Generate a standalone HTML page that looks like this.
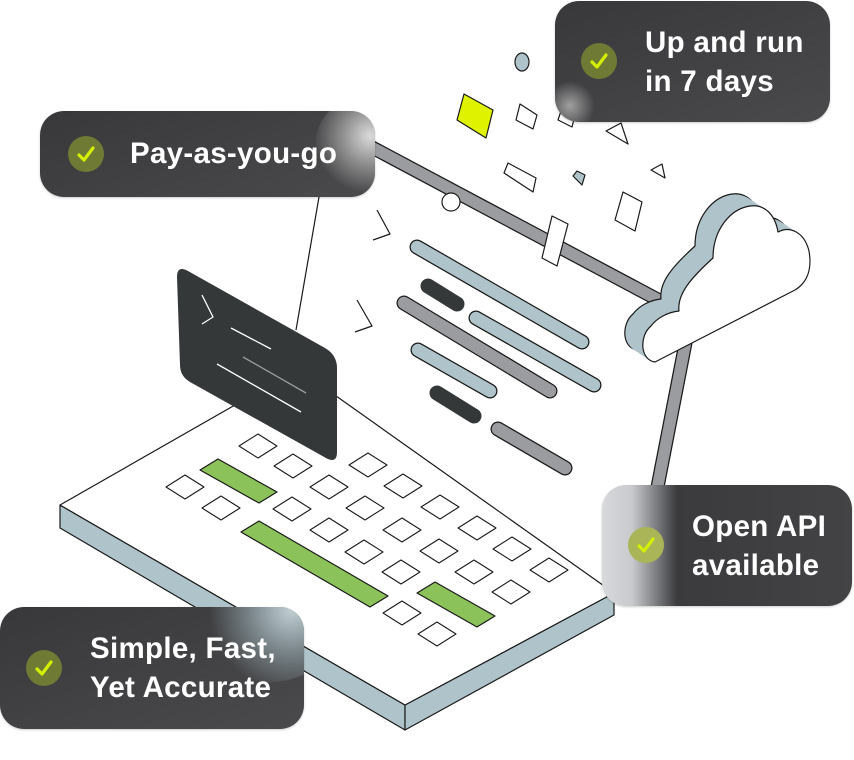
<!DOCTYPE html>
<html><head><meta charset="utf-8"><style>
html,body{margin:0;padding:0;background:#fff;}
body{width:854px;height:760px;position:relative;overflow:hidden;font-family:"Liberation Sans",sans-serif;}
.card{position:absolute;overflow:hidden;border-radius:24px;background:linear-gradient(160deg,#38383b 0%,#434345 60%,#4a4a4c 100%);box-shadow:0 1px 2px rgba(0,0,0,.2);color:#fff;font-weight:bold;font-size:29.5px;line-height:39px;letter-spacing:0.3px;}
.ck{position:absolute;width:36px;height:36px;border-radius:50%;background:#6f7a35;z-index:2}
.ck svg{position:absolute;left:0;top:0}
.t{position:absolute;white-space:nowrap;z-index:2}
.gl{position:absolute;border-radius:50%;pointer-events:none;z-index:1}
</style></head><body>
<svg width="854" height="760" style="position:absolute;left:0;top:0" stroke="#1a1a1a" stroke-width="1.2" stroke-linejoin="round">
<defs>
<path id="cl" d="M655,362 C640,360 639,336 651,326 C657,318 668,312 679,311 C677,294 691,278 713,258 C713,230 730,209 750,206 C764,204 775,214 778,232 C789,226 804,231 809,251 C812,268 808,282 795,290 L655,362 Z"/>
</defs>
<line x1="345" y1="133" x2="668" y2="305" stroke="#1a1a1a" stroke-width="14"/>
<line x1="345" y1="133" x2="668" y2="305" stroke="#9a9ca0" stroke-width="11.5"/>
<line x1="688" y1="330" x2="655" y2="500" stroke="#1a1a1a" stroke-width="14"/>
<line x1="688" y1="330" x2="655" y2="500" stroke="#9a9ca0" stroke-width="11.5"/>
<circle cx="451" cy="202" r="9" fill="#fff"/>
<polygon points="542,258 552,216 568,224 557,266" fill="#fff"/>
<ellipse cx="522" cy="62" rx="7" ry="9" fill="#afc4ca"/>
<polygon points="464,94 493,110 486,138 457,120" fill="#dff200"/>
<polygon points="520,104 537,115 533,129 516,120" fill="#fff"/>
<polygon points="562,108 575,115 572,127 558,120" fill="#fff"/>
<polygon points="606,131 621,123 628,144" fill="#fff"/>
<polygon points="651,170 662,164 665,178" fill="#fff"/>
<polygon points="504,173 508,163 536,178 533,192" fill="#fff"/>
<polygon points="573,176 577,171 585,175 582,185" fill="#afc4ca"/>
<polygon points="615,220 623,192 642,202 635,231" fill="#fff"/>
<polyline points="377,210 390,234 373,240" fill="none"/>
<polyline points="357,300 372,326 355,332" fill="none"/>
<g stroke-linecap="round">
<line x1="417" y1="247" x2="582" y2="342" stroke-width="15"/>
<line x1="417" y1="247" x2="582" y2="342" stroke="#afc4ca" stroke-width="12.5"/>
<line x1="428" y1="286" x2="457" y2="304" stroke="#353839" stroke-width="15"/>
<line x1="404" y1="303" x2="550" y2="391" stroke-width="15"/>
<line x1="404" y1="303" x2="550" y2="391" stroke="#9a9ca0" stroke-width="12.5"/>
<line x1="476" y1="318" x2="594" y2="385" stroke-width="15"/>
<line x1="476" y1="318" x2="594" y2="385" stroke="#afc4ca" stroke-width="12.5"/>
<line x1="418" y1="350" x2="490" y2="391" stroke-width="15"/>
<line x1="418" y1="350" x2="490" y2="391" stroke="#afc4ca" stroke-width="12.5"/>
<line x1="437" y1="393" x2="474" y2="416" stroke="#353839" stroke-width="15"/>
<line x1="498" y1="429" x2="565" y2="468" stroke-width="15"/>
<line x1="498" y1="429" x2="565" y2="468" stroke="#9a9ca0" stroke-width="12.5"/>
</g>
<use href="#cl" transform="translate(-18,-12)" fill="#afc4ca" stroke="#1a1a1a"/>
<use href="#cl" transform="translate(-16,-10.5)" fill="#afc4ca" stroke="none"/>
<use href="#cl" transform="translate(-14,-9)" fill="#afc4ca" stroke="none"/>
<use href="#cl" transform="translate(-12,-8)" fill="#afc4ca" stroke="none"/>
<use href="#cl" transform="translate(-10,-6.5)" fill="#afc4ca" stroke="none"/>
<use href="#cl" transform="translate(-8,-5)" fill="#afc4ca" stroke="none"/>
<use href="#cl" transform="translate(-6,-4)" fill="#afc4ca" stroke="none"/>
<use href="#cl" transform="translate(-4,-2.5)" fill="#afc4ca" stroke="none"/>
<use href="#cl" transform="translate(-2,-1)" fill="#afc4ca" stroke="none"/>
<use href="#cl" fill="#fff" stroke="#1a1a1a"/>
<polygon points="60,505 405,705 405,730 60,528" fill="#afc4ca"/>
<polygon points="405,705 614,593 614,615 405,730" fill="#afc4ca"/>
<polygon points="60,505 298,369 614,593 405,705" fill="#fff"/>
<g fill="#fff" stroke-width="1.1">
<polygon points="239,446 258,434 277,446 258,458"/>
<polygon points="274,466 293,454 312,466 293,478"/>
<polygon points="349,465 368,453 387,465 368,477"/>
<polygon points="166,487 185,475 204,487 185,499"/>
<polygon points="310,487 329,475 348,487 329,499"/>
<polygon points="384,486 403,474 422,486 403,498"/>
<polygon points="202,508 221,496 240,508 221,520"/>
<polygon points="273,509 292,497 311,509 292,521"/>
<polygon points="346,508 365,496 384,508 365,520"/>
<polygon points="421,507 440,495 459,507 440,519"/>
<polygon points="310,530 329,518 348,530 329,542"/>
<polygon points="383,530 402,518 421,530 402,542"/>
<polygon points="458,528 477,516 496,528 477,540"/>
<polygon points="345,552 364,540 383,552 364,564"/>
<polygon points="420,551 439,539 458,551 439,563"/>
<polygon points="493,549 512,537 531,549 512,561"/>
<polygon points="382,572 401,560 420,572 401,584"/>
<polygon points="455,572 474,560 493,572 474,584"/>
<polygon points="530,570 549,558 568,570 549,582"/>
<polygon points="492,592 511,580 530,592 511,604"/>
<polygon points="383,613 402,601 421,613 402,625"/>
<polygon points="418,634 437,622 456,634 437,646"/>
</g>
<g fill="#8bc25a">
<polygon points="200,470 218,459 277,492 259,503"/>
<polygon points="241,532 259,521 388,596 370,607"/>
<polygon points="417,593 435,582 495,616 477,627"/>
</g>
<path d="M177,277 Q177,265 188,271 L325,348 Q337,355 337,368 L337,452 Q337,464 326,458 L190,382 Q180,376 180,365 Z" fill="#353839" stroke="none"/>
<g stroke="#fff" stroke-width="1.3" fill="none">
<polyline points="202,295 213,317 202,324"/>
<line x1="231" y1="328" x2="271" y2="349"/>
<line x1="243" y1="357" x2="306" y2="393" stroke="#9a9ca0"/>
<line x1="217" y1="364" x2="301" y2="412"/>
</g>
<line x1="296" y1="330" x2="319" y2="197"/>
</svg>

<div class="card" style="left:40px;top:111px;width:335px;height:86px;">
 <div class="ck" style="left:28px;top:25px"><svg width="36" height="36"><polyline points="11,19 16,24 25,12" fill="none" stroke="#d4f000" stroke-width="3.2" stroke-linecap="round" stroke-linejoin="round"/></svg></div>
 <div class="t" style="left:90px;top:23px">Pay-as-you-go</div>
 <div class="gl" style="left:275px;top:-15px;width:100px;height:100px;background:radial-gradient(circle at 55% 40%,rgba(235,235,235,.9) 0%,rgba(200,200,200,.55) 35%,rgba(70,70,72,0) 70%)"></div>
</div>
<div class="card" style="left:555px;top:1px;width:275px;height:121px;">
 <div class="ck" style="left:26px;top:42px"><svg width="36" height="36"><polyline points="11,19 16,24 25,12" fill="none" stroke="#d4f000" stroke-width="3.2" stroke-linecap="round" stroke-linejoin="round"/></svg></div>
 <div class="t" style="left:90px;top:22px">Up and run<br>in 7 days</div>
 <div class="gl" style="left:-10px;top:80px;width:50px;height:50px;background:radial-gradient(circle,rgba(200,200,200,.7) 0%,rgba(70,70,72,0) 70%)"></div>
</div>
<div class="card" style="left:602px;top:485px;width:250px;height:121px;background:linear-gradient(90deg,#d8d9dc 0%,#c8cacd 12%,#7a7b7e 22%,#3b3b3e 30%,#434345 100%);">
 <div class="ck" style="left:26px;top:42px;background:#a9b557"><svg width="36" height="36"><polyline points="11,19 16,24 25,12" fill="none" stroke="#d4f000" stroke-width="3.2" stroke-linecap="round" stroke-linejoin="round"/></svg></div>
 <div class="t" style="left:90px;top:22px">Open API<br>available</div>
</div>
<div class="card" style="left:0px;top:607px;width:304px;height:122px;">
 <div class="ck" style="left:26px;top:43px"><svg width="36" height="36"><polyline points="11,19 16,24 25,12" fill="none" stroke="#d4f000" stroke-width="3.2" stroke-linecap="round" stroke-linejoin="round"/></svg></div>
 <div class="t" style="left:90px;top:22px">Simple, Fast,<br>Yet Accurate</div>
 <div class="gl" style="left:200px;top:-45px;width:140px;height:120px;background:radial-gradient(circle at 65% 40%,rgba(200,215,220,.95) 0%,rgba(160,180,186,.6) 35%,rgba(70,70,72,0) 70%)"></div>
</div>
</body></html>
